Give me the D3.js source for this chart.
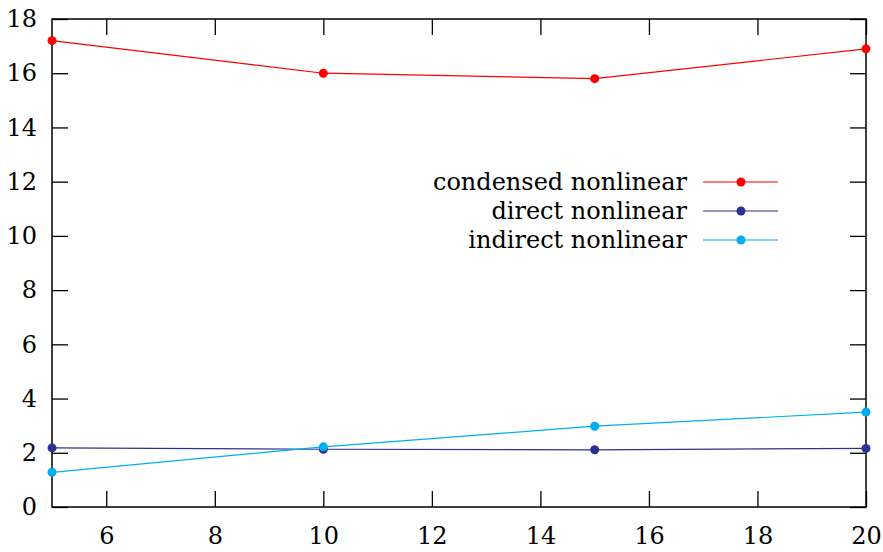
<!DOCTYPE html>
<html>
<head>
<meta charset="utf-8">
<script src="https://cdn.jsdelivr.net/npm/d3@7"></script>
<style>
  body { margin: 0; background: #fff; }
  svg text { font-family: "DejaVu Serif", "Liberation Serif", "Times New Roman", serif; font-size: 24px; fill: #000; }
</style>
</head>
<body>
<script>
        // chart values
        var xValues = [5, 10, 15, 20]
        var condensed = [17.2, 16.0, 15.8, 16.9]
        var direct = [2.18, 2.13, 2.11, 2.16]
        var indirect = [1.28, 2.22, 2.98, 3.50]
        var xTicks = [6, 8, 10, 12, 14, 16, 18, 20]
        var yTicks = [0, 2, 4, 6, 8, 10, 12, 14, 16, 18]
        var seriesNames = ["condensed nonlinear", "direct nonlinear", "indirect nonlinear"]
        var seriesColors = ["#ff0000", "#2e3192", "#00aeef"]

        var width = 883
        var height = 552
        var margin = {left: 52, right: 17, top: 19, bottom: 45}

        var svg = d3.select("body")
            .append("svg")
            .attr("width", width)
            .attr("height", height)

        var x = d3.scaleLinear().domain([5, 20]).range([margin.left, width - margin.right])
        var y = d3.scaleLinear().domain([0, 18]).range([height - margin.bottom, margin.top])

        var tickLen = 16

        // inward ticks on all four sides, like gnuplot mirror ticks
        svg.append("g")
            .attr("transform", "translate(0," + y(0) + ")")
            .call(d3.axisBottom(x).tickValues(xTicks).tickSize(-tickLen).tickPadding(20).tickFormat(d3.format("d")))
            .call(function(g){ g.select(".domain").remove() })
        svg.append("g")
            .attr("transform", "translate(0," + y(18) + ")")
            .call(d3.axisTop(x).tickValues(xTicks).tickSize(-tickLen).tickFormat(""))
            .call(function(g){ g.select(".domain").remove() })
        svg.append("g")
            .attr("transform", "translate(" + x(5) + ",0)")
            .call(d3.axisLeft(y).tickValues(yTicks).tickSize(-tickLen).tickPadding(15).tickFormat(d3.format("d")))
            .call(function(g){ g.select(".domain").remove() })
        svg.append("g")
            .attr("transform", "translate(" + x(20) + ",0)")
            .call(d3.axisRight(y).tickValues(yTicks).tickSize(-tickLen).tickFormat(""))
            .call(function(g){ g.select(".domain").remove() })

        svg.selectAll("g").attr("font-family", null).attr("font-size", null)
        svg.selectAll(".tick line").attr("stroke", "#000").attr("stroke-width", 1.3)

        // frame
        svg.append("rect")
            .attr("x", x(5)).attr("y", y(18))
            .attr("width", x(20) - x(5)).attr("height", y(0) - y(18))
            .attr("fill", "none").attr("stroke", "#000").attr("stroke-width", 1.5)

        var allSeries = [condensed, direct, indirect]
        var line = d3.line()
            .x(function(d, i){ return x(xValues[i]) })
            .y(function(d){ return y(d) })

        allSeries.forEach(function(vals, s){
            svg.append("path")
                .attr("d", line(vals))
                .attr("fill", "none")
                .attr("stroke", seriesColors[s])
                .attr("stroke-width", 1.2)
            svg.selectAll(".dot" + s)
                .data(vals)
                .enter()
                .append("circle")
                .attr("cx", function(d, i){ return x(xValues[i]) })
                .attr("cy", function(d){ return y(d) })
                .attr("r", 4.5)
                .attr("fill", seriesColors[s])
        })

        // legend
        var legend = svg.append("g")
        seriesNames.forEach(function(name, s){
            var ly = 182 + s * 29
            legend.append("text")
                .attr("x", 687).attr("y", ly)
                .attr("dy", "0.32em")
                .attr("text-anchor", "end")
                .text(name)
            legend.append("line")
                .attr("x1", 703).attr("x2", 778)
                .attr("y1", ly).attr("y2", ly)
                .attr("stroke", seriesColors[s]).attr("stroke-width", 1.2)
            legend.append("circle")
                .attr("cx", 741).attr("cy", ly).attr("r", 4.5)
                .attr("fill", seriesColors[s])
        })
</script>
</body>
</html>
